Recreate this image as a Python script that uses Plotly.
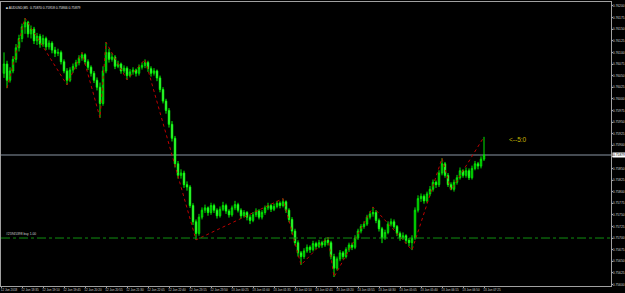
import plotly.graph_objects as go

opens = [0.76055,0.76075,0.76040,0.76060,0.76085,0.76110,0.76130,0.76155,0.76165,0.76140,
0.76150,0.76125,0.76135,0.76118,0.76130,0.76112,0.76120,0.76105,0.76098,0.76100,
0.76080,0.76060,0.76040,0.76062,0.76070,0.76078,0.76088,0.76095,0.76080,0.76068,
0.76055,0.76040,0.76025,0.75990,0.76060,0.76100,0.76085,0.76090,0.76070,0.76075,
0.76060,0.76066,0.76050,0.76058,0.76062,0.76055,0.76068,0.76072,0.76078,0.76065,
0.76055,0.76060,0.76045,0.76020,0.75995,0.75975,0.75945,0.75915,0.75860,0.75835,
0.75840,0.75815,0.75810,0.75770,0.75735,0.75710,0.75745,0.75760,0.75765,0.75755,
0.75770,0.75760,0.75748,0.75762,0.75770,0.75758,0.75750,0.75765,0.75772,0.75760,
0.75748,0.75755,0.75745,0.75738,0.75750,0.75758,0.75745,0.75755,0.75765,0.75770,
0.75762,0.75768,0.75775,0.75770,0.75778,0.75760,0.75740,0.75715,0.75690,0.75668,
0.75660,0.75672,0.75680,0.75675,0.75688,0.75682,0.75690,0.75685,0.75695,0.75690,
0.75660,0.75635,0.75655,0.75668,0.75660,0.75675,0.75685,0.75680,0.75700,0.75715,
0.75725,0.75730,0.75745,0.75752,0.75755,0.75738,0.75720,0.75700,0.75712,0.75730,
0.75735,0.75725,0.75710,0.75700,0.75705,0.75695,0.75690,0.75700,0.75760,0.75785,
0.75790,0.75780,0.75795,0.75805,0.75820,0.75815,0.75840,0.75860,0.75835,0.75815,
0.75805,0.75820,0.75830,0.75845,0.75835,0.75845,0.75830,0.75850,0.75860,0.75855,
0.75870]
highs = [0.76100,0.76082,0.76068,0.76092,0.76118,0.76138,0.76162,0.76174,0.76168,0.76158,
0.76155,0.76142,0.76140,0.76138,0.76134,0.76126,0.76124,0.76112,0.76108,0.76104,
0.76085,0.76066,0.76068,0.76076,0.76084,0.76094,0.76100,0.76098,0.76085,0.76072,
0.76060,0.76046,0.76035,0.76070,0.76122,0.76108,0.76098,0.76094,0.76082,0.76078,
0.76072,0.76070,0.76064,0.76068,0.76065,0.76074,0.76078,0.76085,0.76082,0.76070,
0.76066,0.76063,0.76050,0.76025,0.76000,0.75980,0.75952,0.75920,0.75866,0.75848,
0.75845,0.75822,0.75814,0.75775,0.75740,0.75752,0.75766,0.75772,0.75768,0.75776,
0.75774,0.75764,0.75768,0.75778,0.75774,0.75762,0.75770,0.75780,0.75776,0.75764,
0.75760,0.75758,0.75750,0.75756,0.75764,0.75762,0.75760,0.75770,0.75776,0.75774,
0.75774,0.75780,0.75779,0.75785,0.75781,0.75764,0.75745,0.75720,0.75695,0.75672,
0.75678,0.75686,0.75684,0.75694,0.75692,0.75696,0.75694,0.75700,0.75702,0.75694,
0.75666,0.75660,0.75674,0.75672,0.75680,0.75690,0.75690,0.75706,0.75720,0.75730,
0.75736,0.75750,0.75758,0.75767,0.75760,0.75742,0.75724,0.75718,0.75736,0.75742,
0.75740,0.75728,0.75714,0.75712,0.75708,0.75700,0.75706,0.75766,0.75792,0.75796,
0.75794,0.75800,0.75812,0.75826,0.75824,0.75846,0.75872,0.75864,0.75840,0.75820,
0.75826,0.75836,0.75852,0.75848,0.75852,0.75850,0.75856,0.75866,0.75864,0.75876,
0.75918]
lows = [0.76045,0.76023,0.76035,0.76055,0.76078,0.76102,0.76122,0.76140,0.76132,0.76130,
0.76118,0.76116,0.76110,0.76112,0.76105,0.76106,0.76098,0.76090,0.76092,0.76074,
0.76055,0.76030,0.76036,0.76056,0.76064,0.76072,0.76082,0.76074,0.76062,0.76048,
0.76034,0.76018,0.75959,0.75985,0.76055,0.76078,0.76080,0.76064,0.76066,0.76054,
0.76055,0.76041,0.76046,0.76052,0.76048,0.76050,0.76063,0.76066,0.76058,0.76048,
0.76050,0.76038,0.76014,0.75990,0.75968,0.75938,0.75908,0.75852,0.75828,0.75828,
0.75808,0.75802,0.75765,0.75728,0.75696,0.75705,0.75740,0.75754,0.75748,0.75750,
0.75754,0.75742,0.75744,0.75758,0.75752,0.75744,0.75746,0.75760,0.75755,0.75742,
0.75744,0.75738,0.75730,0.75734,0.75745,0.75740,0.75740,0.75750,0.75760,0.75756,
0.75758,0.75764,0.75764,0.75766,0.75754,0.75734,0.75708,0.75684,0.75660,0.75642,
0.75655,0.75668,0.75668,0.75671,0.75676,0.75678,0.75679,0.75681,0.75684,0.75654,
0.75616,0.75630,0.75650,0.75654,0.75656,0.75670,0.75674,0.75676,0.75696,0.75710,
0.75720,0.75726,0.75740,0.75746,0.75732,0.75714,0.75689,0.75696,0.75708,0.75725,
0.75720,0.75704,0.75694,0.75696,0.75688,0.75682,0.75674,0.75696,0.75755,0.75778,
0.75774,0.75776,0.75790,0.75800,0.75808,0.75810,0.75835,0.75830,0.75810,0.75803,
0.75800,0.75815,0.75826,0.75830,0.75830,0.75825,0.75826,0.75846,0.75848,0.75850,
0.75866]
closes = [0.76075,0.76040,0.76060,0.76085,0.76110,0.76130,0.76155,0.76165,0.76140,0.76150,
0.76125,0.76135,0.76118,0.76130,0.76112,0.76120,0.76105,0.76098,0.76100,0.76080,
0.76060,0.76040,0.76062,0.76070,0.76078,0.76088,0.76095,0.76080,0.76068,0.76055,
0.76040,0.76025,0.75990,0.76060,0.76100,0.76085,0.76090,0.76070,0.76075,0.76060,
0.76066,0.76050,0.76058,0.76062,0.76055,0.76068,0.76072,0.76078,0.76065,0.76055,
0.76060,0.76045,0.76020,0.75995,0.75975,0.75945,0.75915,0.75860,0.75835,0.75840,
0.75815,0.75810,0.75770,0.75735,0.75710,0.75745,0.75760,0.75765,0.75755,0.75770,
0.75760,0.75748,0.75762,0.75770,0.75758,0.75750,0.75765,0.75772,0.75760,0.75748,
0.75755,0.75745,0.75738,0.75750,0.75758,0.75745,0.75755,0.75765,0.75770,0.75762,
0.75768,0.75775,0.75770,0.75778,0.75760,0.75740,0.75715,0.75690,0.75668,0.75660,
0.75672,0.75680,0.75675,0.75688,0.75682,0.75690,0.75685,0.75695,0.75690,0.75660,
0.75635,0.75655,0.75668,0.75660,0.75675,0.75685,0.75680,0.75700,0.75715,0.75725,
0.75730,0.75745,0.75752,0.75755,0.75738,0.75720,0.75700,0.75712,0.75730,0.75735,
0.75725,0.75710,0.75700,0.75705,0.75695,0.75690,0.75700,0.75760,0.75785,0.75790,
0.75780,0.75795,0.75805,0.75820,0.75815,0.75840,0.75860,0.75835,0.75815,0.75805,
0.75820,0.75830,0.75845,0.75835,0.75845,0.75830,0.75850,0.75860,0.75855,0.75870,
0.75879]

zz_idx = [1, 7, 21, 26, 32, 34, 41, 47, 64, 93, 99, 108, 110, 123, 136, 146, 149, 160]
zz_price = [0.76023, 0.76174, 0.76030, 0.76100, 0.75959, 0.76122, 0.76041, 0.76085,
            0.75696, 0.75785, 0.75642, 0.75702, 0.75616, 0.75767, 0.75674, 0.75872,
            0.75803, 0.75918]

price_ticks = [0.76200, 0.76175, 0.76150, 0.76125, 0.76100, 0.76075, 0.76050, 0.76025,
               0.76000, 0.75975, 0.75950, 0.75925, 0.75900, 0.75875, 0.75850, 0.75825,
               0.75800, 0.75775, 0.75750, 0.75725, 0.75700, 0.75675, 0.75650, 0.75625,
               0.75600]
time_tick_idx = [-1, 6, 13, 20, 27, 34, 41, 48, 55, 62, 69, 76, 83, 90, 97, 104, 111,
                 118, 125, 132, 139, 146, 153, 160]
time_labels = ["12 Jun 2018", "12 Jun 18:35", "12 Jun 19:10", "12 Jun 19:45", "12 Jun 20:20",
               "12 Jun 20:55", "12 Jun 21:30", "12 Jun 22:05", "12 Jun 22:40", "12 Jun 23:15",
               "12 Jun 23:50", "13 Jun 00:25", "13 Jun 01:00", "13 Jun 01:35", "13 Jun 02:10",
               "13 Jun 02:45", "13 Jun 03:20", "13 Jun 03:55", "13 Jun 04:30", "13 Jun 05:05",
               "13 Jun 05:40", "13 Jun 06:15", "13 Jun 06:50", "13 Jun 07:25"]

symbol_title = "AUDUSD,M5  0.75870 0.75918 0.75866 0.75879"
bid_price = 0.75879
order_price = 0.75700
order_label = "#25945398 buy 1.00"
signal_text = "<--5:0"
signal_idx = 167.5
signal_price = 0.75913

bars = list(range(len(closes)))
FONT = "Liberation Sans"

# the bid label box hides the price tick right under it, as in the terminal
price_ticktext = ["" if abs(v - bid_price) < 0.0001 else "%.5f" % v for v in price_ticks]

fig = go.Figure()
fig.add_trace(go.Candlestick(
    x=bars, open=opens, high=highs, low=lows, close=closes,
    increasing=dict(line=dict(color="#00e600", width=1), fillcolor="#008800"),
    decreasing=dict(line=dict(color="#00ff00", width=1), fillcolor="#d8ffd8"),
    whiskerwidth=0, hoverinfo="skip", showlegend=False))
fig.add_trace(go.Scatter(
    x=zz_idx, y=zz_price, mode="lines",
    line=dict(color="#c00000", width=1, dash="dot"),
    hoverinfo="skip", showlegend=False))

fig.add_hline(y=bid_price, line=dict(color="#454b52", width=2), layer="below")
fig.add_hline(y=order_price, line=dict(color="#109010", width=1, dash="dashdot"))

fig.add_annotation(x=0, y=order_price, xref="paper", yref="y", text=order_label,
                   showarrow=False, xanchor="left", yanchor="bottom", xshift=3, yshift=0,
                   font=dict(family=FONT, size=3.3, color="#d0d0d0"))
fig.add_annotation(x=signal_idx, y=signal_price, xref="x", yref="y", text=signal_text,
                   showarrow=False, xanchor="left", yanchor="middle",
                   font=dict(family=FONT, size=6.5, color="#c8b800"))
fig.add_annotation(x=0, y=1, xref="paper", yref="paper", text="\u25A0 " + symbol_title,
                   showarrow=False, xanchor="left", yanchor="top", xshift=3, yshift=-2,
                   font=dict(family=FONT, size=3.3, color="#e0e0e0"))
fig.add_annotation(x=1, y=bid_price, xref="paper", yref="y", text="%.5f" % bid_price,
                   showarrow=False, xanchor="left", yanchor="middle", xshift=1,
                   bgcolor="#ffffff", borderpad=0,
                   font=dict(family=FONT, size=3.3, color="#000000"))

fig.update_layout(
    width=625, height=293,
    margin=dict(l=1, r=14, t=2, b=7, autoexpand=False),
    paper_bgcolor="#000000", plot_bgcolor="#000000",
    xaxis=dict(range=[-1, 202.33], rangeslider=dict(visible=False), showgrid=False,
               zeroline=False, tickvals=time_tick_idx, ticktext=time_labels,
               tickangle=0, automargin=False,
               ticks="outside", ticklen=1, tickcolor="#a0a0a0",
               tickfont=dict(family=FONT, size=3, color="#d0d0d0"),
               ticklabelshift=8, ticklabelstandoff=-1,
               showline=True, linecolor="#a0a0a0", linewidth=1, mirror=True,
               fixedrange=True),
    yaxis=dict(range=[0.755966, 0.762086], side="right", showgrid=False, zeroline=False,
               tickvals=price_ticks, ticktext=price_ticktext, automargin=False,
               ticks="outside", ticklen=1, tickcolor="#a0a0a0",
               tickfont=dict(family=FONT, size=3.3, color="#d0d0d0"),
               ticklabelstandoff=-1,
               showline=True, linecolor="#a0a0a0", linewidth=1, mirror=True,
               fixedrange=True),
)

fig.write_html("out.html")
